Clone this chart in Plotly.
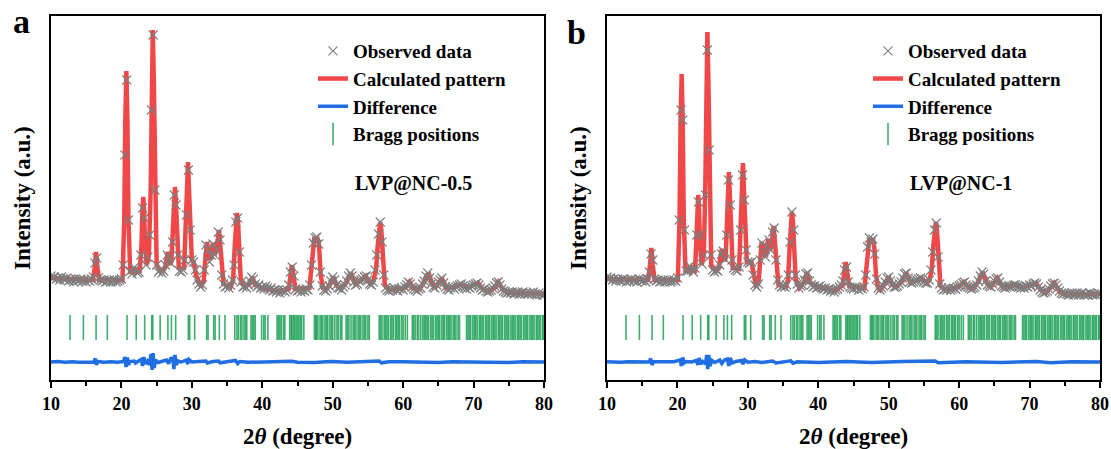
import numpy as np
import plotly.graph_objects as go

# ---------------- data ----------------
# 2-theta scan grid (step 0.25 deg)
two_theta = np.round(np.arange(10.0, 80.0001, 0.25), 2)

# Observed intensities (a.u.), panel a  (one line per degree: .00 .25 .50 .75)
obs_a = [
    1040, 1020, 1030, 1010,
    1020, 1000, 1030, 1010,
    1000, 1020, 990, 1010,
    1000, 980, 1010, 990,
    1000, 1010, 990, 1000,
    980, 1000, 990, 1010,
    1030, 1170, 1220, 1020,
    1000, 990, 1000, 980,
    990, 1000, 980, 990,
    1000, 980, 990, 1000,
    1010, 1150, 2250, 3000,
    1600, 1090, 1060, 1120,
    1110, 1070, 1080, 1250,
    1720, 1620, 1150, 1230,
    1450, 2700, 3450, 1900,
    1150, 1080, 1100, 1070,
    1090, 1150, 1250, 1220,
    1170, 1380, 1850, 1750,
    1250, 1090, 1080, 1100,
    1200, 1650, 2100, 1500,
    1200, 1180, 1100, 1000,
    960, 930, 950, 1100,
    1350, 1300, 1180, 1250,
    1360, 1250, 1300, 1480,
    1400, 1050, 960, 930,
    940, 920, 950, 1000,
    1150, 1580, 1620, 1280,
    980, 930, 940, 920,
    950, 990, 1030, 1010,
    960, 930, 950, 920,
    930, 910, 940, 920,
    900, 920, 890, 900,
    880, 900, 870, 890,
    900, 880, 900, 950,
    1080, 1130, 1040, 910,
    890, 900, 880, 900,
    890, 910, 900, 950,
    1150, 1370, 1420, 1430,
    1360, 1080, 940, 900,
    890, 910, 940, 990,
    1030, 1000, 950, 920,
    920, 900, 930, 950,
    990, 1040, 1070, 1040,
    980, 950, 960, 990,
    1000, 1010, 1030, 1040,
    1000, 960, 950, 980,
    1100, 1250, 1460, 1580,
    1380, 1050, 920, 900,
    890, 910, 900, 920,
    900, 890, 910, 920,
    900, 930, 950, 980,
    960, 930, 910, 900,
    890, 910, 920, 960,
    990, 1040, 1070, 1020,
    960, 930, 920, 950,
    980, 1000, 1020, 970,
    930, 910, 900, 920,
    930, 910, 930, 940,
    950, 960, 940, 920,
    910, 930, 920, 940,
    950, 960, 970, 950,
    920, 900, 910, 890,
    880, 890, 900, 920,
    940, 970, 980, 950,
    910, 890, 880, 870,
    880, 870, 880, 860,
    870, 880, 860, 870,
    880, 860, 870, 860,
    870, 860, 880, 860,
    850, 870, 860, 850,
    850,
]

# Observed intensities (a.u.), panel b
obs_b = [
    1030, 1010, 1020, 1000,
    1010, 990, 1010, 1000,
    990, 1010, 1000, 980,
    1000, 990, 1010, 990,
    1000, 980, 1010, 1000,
    990, 1000, 980, 1010,
    1080, 1260, 1200, 1010,
    990, 1000, 980, 990,
    1000, 980, 990, 1000,
    980, 990, 1000, 990,
    1020, 1600, 2700, 2600,
    1500, 1090, 1090, 1140,
    1100, 1080, 1120, 1450,
    1780, 1450, 1160, 1250,
    1850, 3300, 2300, 1250,
    1100, 1080, 1100, 1090,
    1150, 1260, 1290, 1210,
    1450, 2000, 1750, 1200,
    1120, 1100, 1090, 1130,
    1500, 2050, 1800, 1300,
    1180, 1170, 1180, 1050,
    950, 930, 960, 1200,
    1370, 1280, 1230, 1330,
    1400, 1300, 1480, 1520,
    1200, 1000, 950, 930,
    940, 930, 950, 1050,
    1380, 1680, 1500, 1050,
    960, 920, 940, 950,
    1000, 1060, 1070, 990,
    950, 930, 940, 920,
    930, 940, 920, 910,
    920, 900, 910, 890,
    900, 880, 900, 910,
    930, 950, 990, 1100,
    1130, 980, 930, 920,
    910, 930, 920, 900,
    920, 910, 930, 1050,
    1330, 1420, 1380, 1410,
    1260, 1010, 920, 900,
    920, 940, 980, 1020,
    1030, 990, 950, 930,
    930, 940, 960, 980,
    1020, 1060, 1070, 1020,
    980, 970, 980, 990,
    1000, 1010, 1020, 1010,
    980, 970, 970, 1000,
    1100, 1280, 1500, 1570,
    1230, 960, 920, 900,
    910, 900, 920, 900,
    910, 920, 910, 930,
    940, 950, 970, 980,
    950, 930, 920, 910,
    920, 930, 950, 990,
    1040, 1080, 1060, 990,
    950, 940, 930, 960,
    990, 1010, 1020, 980,
    940, 930, 920, 930,
    940, 930, 940, 950,
    950, 940, 930, 920,
    930, 920, 940, 930,
    950, 940, 960, 970,
    960, 930, 900, 880,
    870, 880, 890, 910,
    940, 960, 970, 950,
    920, 890, 870, 860,
    870, 860, 850, 860,
    870, 850, 860, 870,
    850, 860, 870, 850,
    860, 850, 870, 860,
    850, 860, 850, 870,
    860,
]

# Calculated pattern (2theta, intensity), panel a
calc_a = [
    (10.0, 1020), (15.95, 1000), (16.2, 1120), (16.4, 1280), (16.6, 1120), (16.85, 1000),
    (20.15, 1000), (20.4, 1600), (20.55, 2600), (20.7, 3090), (20.85, 2600), (21.0, 1600),
    (21.25, 1080), (21.7, 1080), (21.9, 1120), (22.1, 1080), (22.6, 1090), (22.85, 1350),
    (22.98, 1700), (23.1, 1830), (23.22, 1700), (23.35, 1350), (23.6, 1150), (23.9, 1250),
    (24.15, 1900), (24.3, 3000), (24.45, 3500), (24.6, 3000), (24.75, 1900), (25.0, 1150),
    (25.6, 1090), (26.0, 1100), (26.25, 1140), (26.45, 1230), (26.6, 1280), (26.75, 1230),
    (26.95, 1150), (27.1, 1200), (27.3, 1450), (27.45, 1750), (27.6, 1930), (27.75, 1750),
    (27.9, 1400), (28.15, 1120), (28.9, 1120), (29.15, 1500), (29.3, 1900), (29.45, 2180),
    (29.6, 1900), (29.75, 1500), (30.0, 1200), (30.25, 1180), (30.6, 1050), (31.3, 930),
    (31.7, 1000), (31.9, 1200), (32.15, 1380), (32.4, 1250), (32.6, 1200), (32.8, 1300),
    (33.0, 1370), (33.25, 1250), (33.5, 1310), (33.85, 1500), (34.15, 1250), (34.5, 960),
    (35.5, 930), (35.85, 1000), (36.1, 1350), (36.25, 1580), (36.4, 1670), (36.55, 1580),
    (36.7, 1350), (36.95, 1000), (37.5, 930), (38.2, 960), (38.6, 1030), (39.0, 950),
    (40.0, 920), (42.5, 885), (43.75, 910), (44.0, 1060), (44.2, 1150), (44.4, 1060),
    (44.7, 910), (46.7, 920), (46.95, 1100), (47.2, 1380), (47.4, 1430), (47.6, 1400),
    (47.8, 1430), (48.05, 1350), (48.3, 1050), (48.6, 920), (49.0, 900), (49.6, 950),
    (50.1, 1030), (50.6, 940), (51.2, 910), (52.0, 980), (52.6, 1070), (53.2, 960),
    (53.7, 980), (54.7, 1040), (55.4, 950), (55.8, 1000), (56.15, 1100), (56.4, 1350),
    (56.6, 1540), (56.75, 1580), (56.9, 1500), (57.1, 1250), (57.4, 950), (58.0, 900),
    (60.3, 920), (60.9, 980), (61.4, 920), (62.3, 905), (62.9, 970), (63.6, 1070),
    (64.2, 950), (64.6, 930), (65.5, 1020), (66.1, 920), (67.0, 925), (68.2, 955),
    (69.2, 920), (70.6, 970), (71.3, 910), (72.3, 885), (73.0, 930), (73.5, 980),
    (74.2, 900), (75.0, 875), (80.0, 860),
]

# Calculated pattern, panel b
calc_b = [
    (10.0, 1010), (15.85, 1000), (16.1, 1150), (16.3, 1320), (16.5, 1150), (16.75, 1000),
    (20.05, 1000), (20.3, 1600), (20.45, 2600), (20.6, 3060), (20.75, 2600), (20.9, 1600),
    (21.15, 1090), (21.6, 1090), (21.8, 1140), (22.0, 1090), (22.5, 1090), (22.7, 1350),
    (22.83, 1700), (22.95, 1850), (23.07, 1700), (23.2, 1350), (23.45, 1150), (23.75, 1250),
    (23.95, 1900), (24.1, 3000), (24.25, 3480), (24.4, 3000), (24.55, 1900), (24.8, 1150),
    (25.5, 1090), (25.9, 1120), (26.15, 1250), (26.3, 1310), (26.45, 1250), (26.7, 1190),
    (26.85, 1220), (27.0, 1450), (27.15, 1850), (27.3, 2080), (27.45, 1850), (27.6, 1450),
    (27.85, 1120), (28.75, 1110), (29.0, 1500), (29.15, 1900), (29.3, 2170), (29.45, 1900),
    (29.6, 1500), (29.85, 1180), (30.5, 1180), (30.8, 1050), (31.2, 930), (31.55, 1000),
    (31.75, 1200), (31.95, 1380), (32.25, 1270), (32.55, 1230), (32.7, 1330), (32.9, 1410),
    (33.15, 1300), (33.35, 1350), (33.65, 1540), (33.95, 1230), (34.35, 950), (35.4, 930),
    (35.7, 1000), (35.95, 1350), (36.1, 1590), (36.25, 1680), (36.4, 1590), (36.55, 1350),
    (36.8, 1000), (37.3, 920), (38.0, 980), (38.4, 1080), (38.8, 980), (39.5, 935),
    (41.5, 905), (42.5, 895), (43.45, 950), (43.7, 1080), (43.9, 1180), (44.1, 1080),
    (44.4, 940), (46.55, 920), (46.8, 1100), (47.05, 1380), (47.25, 1420), (47.5, 1380),
    (47.72, 1420), (47.95, 1330), (48.2, 1050), (48.5, 920), (48.8, 900), (49.5, 970),
    (50.0, 1030), (50.5, 950), (51.0, 930), (51.8, 980), (52.5, 1070), (53.1, 975),
    (53.6, 985), (54.6, 1020), (55.4, 970), (55.8, 1000), (56.1, 1100), (56.35, 1350),
    (56.55, 1540), (56.7, 1580), (56.85, 1500), (57.05, 1250), (57.35, 940), (58.0, 905),
    (59.8, 925), (60.7, 980), (61.3, 925), (62.0, 915), (62.7, 980), (63.35, 1080),
    (63.9, 970), (64.5, 930), (65.4, 1020), (66.2, 930), (67.0, 935), (67.9, 950),
    (69.2, 925), (70.9, 970), (71.6, 900), (72.3, 870), (73.0, 930), (73.5, 970),
    (74.3, 880), (75.5, 855), (80.0, 860),
]

# Difference (obs - calc), panel a
diff_a = [
    (10, 0), (11, 4), (12, -3), (13, 3), (14, -2), (15, 2), (16.1, 0), (16.3, 35),
    (16.45, -30), (16.6, 5), (17.5, -2), (18.5, 3), (19.5, -2), (20.3, 5), (20.5, 50),
    (20.65, -50), (20.85, 45), (21.0, -30), (21.2, 5), (21.8, 10), (22.0, -10), (22.3, 5),
    (22.8, 25), (23.0, -40), (23.2, 50), (23.4, -20), (23.7, 10), (24.0, -30), (24.2, 80),
    (24.35, -80), (24.5, 90), (24.65, -60), (24.85, 20), (25.2, -5), (26.0, 15), (26.4, 20),
    (26.7, -15), (27.0, 35), (27.3, 40), (27.45, -70), (27.6, 70), (27.8, -30), (28.0, 10),
    (28.5, 0), (29.2, 20), (29.4, -20), (29.6, 25), (30.0, 0), (31.0, 5), (32.0, 10),
    (32.2, -10), (33.0, 5), (33.8, 10), (34.0, -8), (35.0, 3), (36.2, 15), (36.5, -15),
    (36.8, 5), (38.0, -3), (40.0, -2), (42.0, 3), (44.2, 8), (45.0, -3), (47.5, -5),
    (49.0, 3), (50.0, 5), (52.0, -3), (54.0, 3), (56.6, 10), (56.9, -8), (58.0, 2),
    (60.0, 2), (62.0, -3), (65.0, -4), (67.0, 3), (70.0, 4), (72.0, -2), (75.0, -4),
    (77.0, 2), (80.0, 0),
]

# Difference, panel b
diff_b = [
    (10, 2), (11, -2), (12, -2), (13, 3), (14, 3), (15, -2), (16.0, 0), (16.2, 35),
    (16.4, -30), (16.6, 5), (17.5, 3), (18.5, -2), (19.5, 3), (20.4, 20), (20.55, -40),
    (20.75, 45), (20.95, -10), (21.3, 5), (22.0, 0), (22.7, 15), (22.9, -30), (23.1, 40),
    (23.3, -20), (23.6, 5), (24.0, -20), (24.15, 70), (24.3, -70), (24.45, 70), (24.6, -40),
    (24.9, 15), (25.3, -5), (26.0, 20), (26.3, -15), (26.7, 20), (27.1, 30), (27.3, -40),
    (27.5, 40), (27.8, -10), (28.3, 5), (29.1, 15), (29.3, -20), (29.55, 20), (30.0, -2),
    (31.0, 5), (32.0, -5), (33.5, 10), (34.0, -10), (36.1, 12), (36.4, -12), (37.0, 2),
    (40.0, -4), (44.0, 6), (47.5, -5), (52.0, 4), (56.6, 10), (57.0, -8), (61.0, 2),
    (66.0, -4), (71.0, 5), (73.0, -8), (76.0, 2), (80.0, 0),
]

# Bragg reflection positions (2theta)
bragg_pos = [
    12.7, 14.6, 16.4, 18.0, 20.8, 22.1, 23.3, 24.3, 24.45, 25.5, 26.6, 27.1, 27.7,
    29.5, 29.7, 30.4, 32.1, 32.3, 33.1, 33.3, 33.9, 34.7, 36.1, 36.4, 36.6, 36.9, 37.1,
    37.4, 37.6, 37.8, 38.4, 38.6, 38.8, 39.0, 39.9, 40.2, 40.4, 40.8, 42.1, 42.3, 42.5,
    42.7, 43.0, 43.2, 43.9, 44.1, 44.2, 44.4, 44.6, 44.8, 45.0, 45.2, 45.4, 45.6, 45.9,
    47.4, 47.6, 47.7, 47.9, 48.2, 48.4, 48.6, 48.9, 49.1, 49.3, 49.6, 49.8, 50.0, 50.3,
    50.6, 50.8, 51.1, 51.3, 51.9, 52.1, 52.3, 52.6, 52.9, 53.1, 53.3, 53.6, 53.8, 54.0,
    54.3, 54.5, 54.7, 55.0, 55.2, 56.6, 56.8, 57.0, 57.3, 57.5, 57.7, 57.9, 58.2, 58.4,
    58.6, 58.9, 59.1, 59.3, 59.5, 59.8, 60.0, 60.3, 60.6, 61.3, 61.5, 61.7, 62.0, 62.2,
    62.5, 62.8, 63.0, 63.2, 63.4, 63.6, 63.9, 64.1, 64.3, 64.6, 64.8, 65.0, 65.2, 65.5,
    65.7, 65.9, 66.2, 66.4, 66.6, 66.8, 67.1, 67.3, 67.5, 67.8, 68.0, 69.0, 69.2, 69.4,
    69.6, 69.9, 70.1, 70.3, 70.5, 70.8, 71.0, 71.2, 71.4, 71.7, 71.9, 72.1, 72.3, 72.6,
    72.8, 73.0, 73.2, 73.5, 73.7, 73.9, 74.1, 74.4, 74.6, 74.8, 75.0, 75.3, 75.5, 75.7,
    75.9, 76.2, 76.4, 76.6, 76.8, 77.1, 77.3, 77.5, 77.7, 78.0, 78.2, 78.4, 78.6, 78.9,
    79.1, 79.3, 79.5, 79.8, 79.9,
]

sample_names = ["LVP@NC-0.5", "LVP@NC-1"]
panel_letters = ["a", "b"]

# ---------------- style / layout constants ----------------
DIFF_OFFSET = 180
BRAGG_LEVEL = 525
Y_RANGE = [0, 3640]
FONT = "Liberation Serif, Times New Roman, serif"
RED = "#F04848"
BLUE = "#1F6FE3"
GRAY = "rgb(125,125,125)"
GREEN = "rgba(28,160,85,0.85)"
W, H = 1111, 449
TOP, BOT = 16, 380


def px_x(p):
    return p / W


def px_y(p):
    return (BOT - p) / (BOT - TOP)


panels = [
    dict(obs=obs_a, calc=calc_a, diff=diff_a, xa="x", ya="y", leg="legend",
         left=51, right=544, ytitle_x=22, letter_xy=(21, 21.5), text_x=353),
    dict(obs=obs_b, calc=calc_b, diff=diff_b, xa="x2", ya="y2", leg="legend2",
         left=607, right=1100, ytitle_x=578, letter_xy=(577, 33), text_x=908),
]

fig = go.Figure()
for p in panels:
    fig.add_trace(go.Scatter(
        x=bragg_pos, y=[BRAGG_LEVEL] * len(bragg_pos), mode="markers",
        name="Bragg positions",
        marker=dict(symbol="line-ns-open", size=18, color=GREEN,
                    line=dict(width=1.6, color=GREEN)),
        xaxis=p["xa"], yaxis=p["ya"], legend=p["leg"], legendrank=4))
    dx, dy = zip(*p["diff"])
    fig.add_trace(go.Scatter(
        x=list(dx), y=[v + DIFF_OFFSET for v in dy], mode="lines", name="Difference",
        line=dict(color=BLUE, width=3.5),
        xaxis=p["xa"], yaxis=p["ya"], legend=p["leg"], legendrank=3))
    cx, cy = zip(*p["calc"])
    fig.add_trace(go.Scatter(
        x=list(cx), y=list(cy), mode="lines", name="Calculated pattern",
        line=dict(color=RED, width=4.5),
        xaxis=p["xa"], yaxis=p["ya"], legend=p["leg"], legendrank=2))
    fig.add_trace(go.Scatter(
        x=two_theta, y=p["obs"], mode="markers", name="Observed data",
        marker=dict(symbol="x-thin", size=9, color=GRAY, line=dict(width=1.1, color=GRAY)),
        xaxis=p["xa"], yaxis=p["ya"], legend=p["leg"], legendrank=1))

axis_common = dict(showline=True, linecolor="black", linewidth=2, mirror=True,
                   showgrid=False, zeroline=False, automargin=False)
tickfont = dict(family=FONT, size=18, color="black", weight="bold")


def xaxis_cfg(p, anchor):
    return dict(domain=[px_x(p["left"]), px_x(p["right"])], range=[10, 80], anchor=anchor,
                ticks="outside", ticklen=6, tickwidth=2, tickcolor="black",
                tick0=10, dtick=10, tickfont=tickfont,
                minor=dict(dtick=5, ticks="outside", ticklen=4, tickwidth=2, tickcolor="black"),
                **axis_common)


def yaxis_cfg(anchor):
    return dict(domain=[0, 1], range=Y_RANGE, anchor=anchor, showticklabels=False,
                ticks="", **axis_common)


legend_common = dict(xanchor="left", yanchor="top", bgcolor="rgba(0,0,0,0)",
                     font=dict(family=FONT, size=19, color="black", weight="bold"),
                     itemwidth=30, tracegroupgap=0)

annotations = []
for i, p in enumerate(panels):
    mid = (p["left"] + p["right"]) / 2
    annotations += [
        dict(x=px_x(p["letter_xy"][0]), y=px_y(p["letter_xy"][1]), xref="paper", yref="paper",
             text=panel_letters[i], showarrow=False, xanchor="center", yanchor="middle",
             font=dict(family=FONT, size=34, color="black", weight="bold")),
        dict(x=px_x(p["ytitle_x"]), y=px_y(198), xref="paper", yref="paper",
             text="Intensity (a.u.)", textangle=-90, showarrow=False,
             xanchor="center", yanchor="middle",
             font=dict(family=FONT, size=23, color="black", weight="bold")),
        dict(x=px_x(mid), y=px_y(437), xref="paper", yref="paper",
             text="2<i>θ</i> (degree)", showarrow=False, xanchor="center", yanchor="middle",
             font=dict(family=FONT, size=23, color="black", weight="bold")),
        dict(x=px_x(p["text_x"]), y=px_y(183), xref="paper", yref="paper",
             text=sample_names[i], showarrow=False, xanchor="left", yanchor="middle",
             font=dict(family=FONT, size=20, color="black", weight="bold")),
    ]

fig.update_layout(
    template="none",
    width=W, height=H,
    margin=dict(l=0, r=0, t=TOP, b=H - BOT, autoexpand=False),
    paper_bgcolor="white", plot_bgcolor="white",
    font=dict(family=FONT, color="black"),
    xaxis=xaxis_cfg(panels[0], "y"), yaxis=yaxis_cfg("x"),
    xaxis2=xaxis_cfg(panels[1], "y2"), yaxis2=yaxis_cfg("x2"),
    legend=dict(x=px_x(panels[0]["text_x"] - 40), y=px_y(32), **legend_common),
    legend2=dict(x=px_x(panels[1]["text_x"] - 40), y=px_y(32), **legend_common),
    annotations=annotations,
    showlegend=True,
)

fig.write_html("out.html", config={"displayModeBar": False},
               post_script="document.body.style.margin='0px';")
